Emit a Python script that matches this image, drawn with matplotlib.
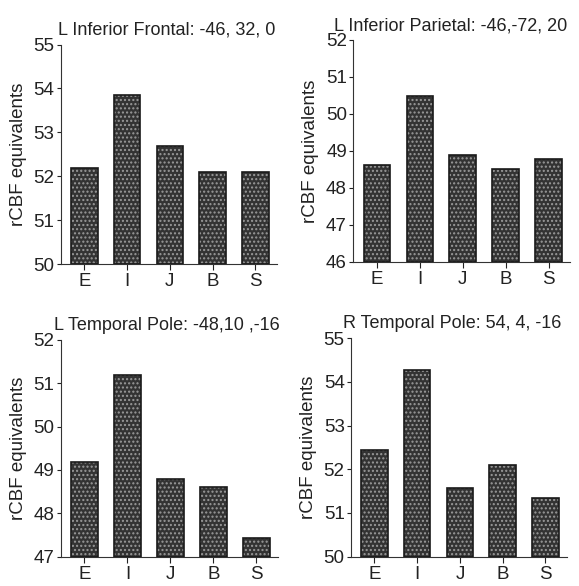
import matplotlib
matplotlib.use("Agg")
import matplotlib.pyplot as plt
import numpy as np

plt.rcParams["font.family"] = ["Liberation Sans", "DejaVu Sans"]

conditions = ["E", "I", "J", "B", "S"]

titles = [
    "L Inferior Frontal: -46, 32, 0",
    "L Inferior Parietal: -46,-72, 20",
    "L Temporal Pole: -48,10 ,-16",
    "R Temporal Pole: 54, 4, -16",
]

inf_frontal = [52.2, 53.85, 52.7, 52.1, 52.1]
inf_parietal = [48.62, 50.48, 48.9, 48.52, 48.77]
l_temporal = [49.18, 51.2, 48.8, 48.6, 47.42]
r_temporal = [52.44, 54.28, 51.58, 52.1, 51.35]

ylims = [(50, 55), (46, 52), (47, 52), (50, 55)]

# axes boxes in figure fractions (left, bottom, width, height)
boxes = [
    [0.105, 0.549, 0.373, 0.375],
    [0.610, 0.553, 0.375, 0.379],
    [0.105, 0.050, 0.375, 0.370],
    [0.606, 0.050, 0.373, 0.373],
]
# title centre (axes fraction), nudged where the reference is off-centre
title_x = [0.49, 0.45, 0.49, 0.47]

fig = plt.figure(figsize=(5.79, 5.86), dpi=100)

x = np.arange(len(conditions))
for vals, title, ylim, box, tx in zip([inf_frontal, inf_parietal, l_temporal, r_temporal],
                                      titles, ylims, boxes, title_x):
    ax = fig.add_axes(box)
    lo = ylim[0]
    heights = np.array(vals) - lo
    # speckled fill: dark bar with light dotted hatch, then outline on top
    ax.bar(x, heights, bottom=lo, width=0.62, color="#333333",
           edgecolor="#9a9a9a", linewidth=0, hatch="....", zorder=2)
    ax.bar(x, heights, bottom=lo, width=0.62, facecolor="none",
           edgecolor="#1a1a1a", linewidth=1.2, zorder=3)
    ax.set_ylim(*ylim)
    ax.set_xlim(-0.55, 4.5)
    ax.set_yticks(np.arange(ylim[0], ylim[1] + 1))
    ax.set_xticks(x)
    ax.set_xticklabels(conditions)
    ax.spines["top"].set_visible(False)
    ax.spines["right"].set_visible(False)
    ax.spines["left"].set_color("#333333")
    ax.spines["bottom"].set_color("#333333")
    ax.tick_params(axis="y", length=3, pad=1.5, labelsize=13.5, colors="#222222")
    ax.tick_params(axis="x", length=4, pad=2.5, labelsize=13.5, colors="#222222")
    ax.set_ylabel("rCBF equivalents", fontsize=13.5, labelpad=5, color="#222222")
    ax.set_title(title, fontsize=13, pad=7, color="#222222", x=tx)

fig.savefig("out.png", dpi=100)
